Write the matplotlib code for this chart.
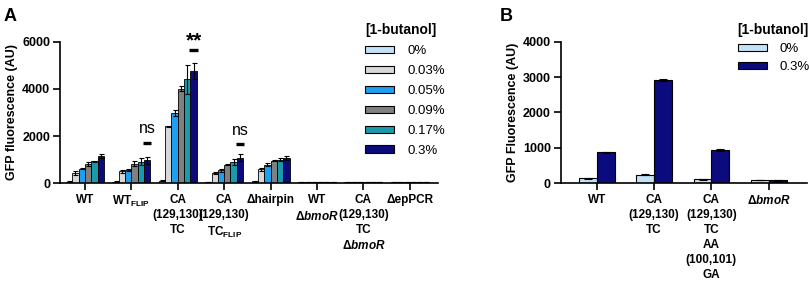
import numpy as np
import matplotlib
matplotlib.use("Agg")
import matplotlib.pyplot as plt
from matplotlib.patches import Patch

plt.rcParams["font.family"] = ["Liberation Sans", "DejaVu Sans"]
plt.rcParams["font.weight"] = "bold"
plt.rcParams["mathtext.fontset"] = "custom"
plt.rcParams["mathtext.rm"] = "Liberation Sans"
plt.rcParams["mathtext.it"] = "Liberation Sans:italic"
plt.rcParams["mathtext.bf"] = "Liberation Sans:bold"

# -----------------------------
# Panel A data
# -----------------------------
groups_a = ["WT", "WT$_{\\mathregular{FLIP}}$", "CA\n(129,130)\nTC",
            "CA\n(129,130)\nTC$_{\\mathregular{FLIP}}$", "Δhairpin",
            "WT\nΔ$\\it{bmoR}$", "CA\n(129,130)\nTC\nΔ$\\it{bmoR}$", "ΔepPCR"]
conc_a = ["0%", "0.03%", "0.05%", "0.09%", "0.17%", "0.3%"]
colors_a = ["#c4e2f6", "#d8d8d8", "#1f9ff0", "#808080", "#1a9bab", "#0b0b7e"]

# rows = groups, cols = concentrations
vals_a = np.array([
    [60, 420, 610, 820, 930, 1140],
    [55, 500, 540, 830, 900, 970],
    [110, 2410, 2990, 4010, 4410, 4770],
    [40, 430, 540, 790, 890, 1080],
    [70, 580, 790, 960, 1000, 1080],
    [40, 45, 40, 45, 40, 40],
    [45, 50, 45, 50, 45, 45],
    [40, 45, 40, 40, 45, 40],
])
errs_a = np.array([
    [15, 90, 30, 80, 30, 80],
    [15, 50, 40, 120, 150, 140],
    [40, 30, 120, 110, 620, 350],
    [5, 40, 60, 40, 130, 150],
    [15, 60, 60, 40, 60, 80],
    [5, 5, 5, 5, 5, 5],
    [5, 5, 5, 5, 5, 5],
    [5, 5, 5, 5, 5, 5],
])

# -----------------------------
# Panel B data
# -----------------------------
groups_b = ["WT", "CA\n(129,130)\nTC", "CA\n(129,130)\nTC\nAA\n(100,101)\nGA",
            "Δ$\\it{bmoR}$"]
conc_b = ["0%", "0.3%"]
colors_b = ["#c4e2f6", "#0b0b7e"]
vals_b = np.array([
    [135, 870],
    [240, 2910],
    [105, 935],
    [85, 80],
])
errs_b = np.array([
    [20, 15],
    [20, 30],
    [15, 35],
    [10, 10],
])

fig = plt.figure(figsize=(8.09, 2.83), dpi=100)
ax_a = fig.add_axes([0.074, 0.353, 0.467, 0.499])
ax_b = fig.add_axes([0.693, 0.353, 0.304, 0.499])

# panel A bars
w = 0.136
x = np.arange(len(groups_a))
for i, c in enumerate(conc_a):
    ax_a.bar(x + (i - 2.5) * w, vals_a[:, i], w, color=colors_a[i],
             edgecolor="black", linewidth=0.6, label=c,
             yerr=errs_a[:, i], capsize=1.8,
             error_kw=dict(elinewidth=0.8, capthick=0.8, ecolor="black"))

ax_a.set_xlim(-0.54, 7.6)
ax_a.set_ylim(0, 6000)
ax_a.set_yticks([0, 2000, 4000, 6000])
ax_a.set_xticks(x)
ax_a.set_xticklabels(groups_a, fontsize=8.5, linespacing=1.33)
ax_a.set_ylabel("GFP fluorescence (AU)", fontsize=9, fontweight="bold", labelpad=3)

# significance marks over the 0.3% bars
last = x + 2.5 * w
for gi, txt, ty, dy in [(1, "ns", 2300, 1700), (3, "ns", 2250, 1660),
                        (2, "**", 6050, 5650)]:
    ax_a.plot([last[gi] - 0.09, last[gi] + 0.09], [dy, dy], color="black",
              lw=2.4, clip_on=False, solid_capstyle="butt")
    if txt == "ns":
        ax_a.text(last[gi], ty, txt, ha="center", va="center", fontsize=11.5,
                  fontweight="normal", clip_on=False)
    else:
        ax_a.text(last[gi], ty, txt, ha="center", va="center", fontsize=15,
                  fontweight="bold", clip_on=False)

# panel B bars
wb = 0.31
xb = np.arange(len(groups_b))
for i, c in enumerate(conc_b):
    ax_b.bar(xb + (i - 0.5) * wb, vals_b[:, i], wb, color=colors_b[i],
             edgecolor="black", linewidth=0.8, label=c,
             yerr=errs_b[:, i], capsize=3,
             error_kw=dict(elinewidth=0.8, capthick=0.8, ecolor="black"))

ax_b.set_xlim(-0.63, 3.66)
ax_b.set_ylim(0, 4000)
ax_b.set_yticks([0, 1000, 2000, 3000, 4000])
ax_b.set_xticks(xb)
ax_b.set_xticklabels(groups_b, fontsize=8.5, linespacing=1.33)
ax_b.set_ylabel("GFP Fluorescence (AU)", fontsize=9, fontweight="bold", labelpad=3)

for ax in (ax_a, ax_b):
    ax.spines["top"].set_visible(False)
    ax.spines["right"].set_visible(False)
    ax.spines["left"].set_linewidth(1.2)
    ax.spines["bottom"].set_linewidth(1.2)
    ax.tick_params(axis="both", length=5, width=1.2, pad=2)
    ax.tick_params(axis="x", pad=3)
    ax.tick_params(axis="y", labelsize=9)
    for t in ax.get_yticklabels():
        t.set_fontweight("bold")

# legends
leg_a = fig.legend(handles=[Patch(facecolor=colors_a[i], edgecolor="black", linewidth=0.8,
                                  label=c) for i, c in enumerate(conc_a)],
                   loc="upper left", bbox_to_anchor=(0.437, 0.96), frameon=False,
                   title="[1-butanol]", prop=dict(size=9.5, weight="normal"),
                   title_fontproperties=dict(size=10, weight="bold"),
                   handlelength=2.2, handleheight=0.45, labelspacing=0.6,
                   handletextpad=1.0, alignment="left")
leg_b = fig.legend(handles=[Patch(facecolor=colors_b[i], edgecolor="black", linewidth=0.8,
                                  label=c) for i, c in enumerate(conc_b)],
                   loc="upper left", bbox_to_anchor=(0.897, 0.96), frameon=False,
                   title="[1-butanol]", prop=dict(size=9.5, weight="normal"),
                   title_fontproperties=dict(size=10, weight="bold"),
                   handlelength=2.2, handleheight=0.45, labelspacing=0.45,
                   handletextpad=1.0, alignment="left")

fig.text(0.004, 0.972, "A", fontsize=13, fontweight="bold", va="top")
fig.text(0.618, 0.972, "B", fontsize=13, fontweight="bold", va="top")

fig.savefig("out.png", dpi=100)
